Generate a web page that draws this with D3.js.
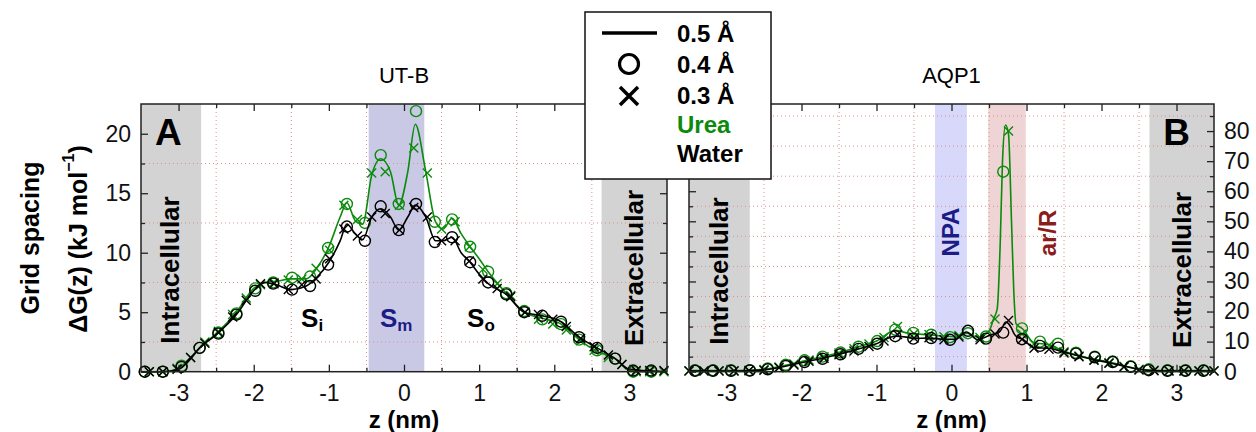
<!DOCTYPE html>
<html>
<head>
<meta charset="utf-8">
<script src="https://cdn.jsdelivr.net/npm/d3@7"></script>
<style>
  body { margin:0; background:#fff; }
  svg { font-family:"Liberation Sans", Arial, sans-serif; }
</style>
</head>
<body>
<div id="canvas"></div>
<script>
// --- UT-B (panel A) data, z in nm, dG in kJ/mol
var zLineUTB = [-3.5,-3.2,-3.0,-2.85,-2.72,-2.5,-2.23,-2.0,-1.85,-1.7,-1.5,-1.3,-1.15,-1.0,-0.85,-0.76,-0.65,-0.55,-0.43,-0.31,-0.18,-0.07,0.05,0.15,0.29,0.42,0.52,0.64,0.76,0.88,1.0,1.12,1.36,1.6,1.84,2.09,2.33,2.57,2.81,3.0,3.2,3.5];
var waterLineUTB = [0,0,0.2,1.0,2.0,3.1,4.8,6.8,7.5,7.3,6.9,7.2,8.0,9.2,11.0,12.4,11.6,11.1,13.0,13.7,13.0,11.9,13.0,14.0,13.0,11.0,11.0,11.3,10.0,9.2,8.2,7.4,6.5,5.0,4.7,4.2,2.9,2.0,1.1,0.2,0.1,0];
var ureaLineUTB  = [0,0,0.3,1.1,2.0,3.2,5.0,7.0,7.5,7.6,7.8,7.8,8.8,10.5,13.0,14.2,12.7,12.4,16.5,17.9,16.8,14.0,16.8,20.8,16.8,12.6,12.0,12.9,11.6,10.5,9.5,8.4,6.6,5.0,4.5,4.0,2.7,1.7,1.1,0.1,0,0];

var zCircUTB = [-3.45,-3.21,-2.96,-2.72,-2.47,-2.23,-1.98,-1.74,-1.49,-1.25,-1.01,-0.76,-0.52,-0.31,-0.07,0.16,0.41,0.64,0.88,1.12,1.36,1.6,1.84,2.09,2.33,2.57,2.81,3.05,3.29];
var waterCircUTB = [0,0,0.4,2.0,3.2,4.8,6.8,7.4,6.9,7.2,9.0,12.2,11.0,13.9,11.9,14.1,10.9,11.3,9.2,7.5,6.5,5.0,4.7,4.2,2.9,2.0,1.1,0.1,0.1];
var ureaCircUTB  = [0,0,0.5,2.0,3.3,4.9,7.0,7.5,7.9,8.0,10.4,14.1,12.5,18.2,14.1,21.9,12.6,12.8,10.5,8.4,6.6,5.1,4.4,4.0,2.7,1.8,1.1,0,0];

var zCrossUTB = [-3.39,-3.21,-3.02,-2.84,-2.65,-2.47,-2.28,-2.1,-1.91,-1.73,-1.54,-1.36,-1.17,-0.99,-0.8,-0.62,-0.43,-0.25,-0.06,0.13,0.31,0.5,0.68,0.87,1.05,1.24,1.42,1.61,1.79,1.98,2.16,2.35,2.53,2.72,2.9,3.09,3.27,3.46];
var waterCrossUTB = [0,0,0.2,1.2,2.4,3.3,4.6,6.0,7.4,7.4,6.9,7.3,7.8,9.5,12.0,11.4,13.0,13.3,11.9,13.8,13.0,11.0,11.0,9.3,7.8,7.0,6.3,5.0,4.8,4.4,3.8,2.8,2.1,1.4,0.6,0.1,0.1,0.1];
var ureaCrossUTB  = [0,0,0.3,1.2,2.5,3.4,4.8,6.2,7.3,7.5,7.7,7.8,8.7,10.2,14.0,12.8,16.7,16.8,14.0,18.8,16.7,12.0,12.6,10.5,8.6,7.4,6.4,5.0,4.4,4.0,3.5,2.6,1.8,1.2,0.6,0,0,0];

// --- AQP1 (panel B) data
var zLineAQP1 = [-3.5,-3.0,-2.7,-2.5,-2.2,-2.0,-1.75,-1.5,-1.25,-1.0,-0.75,-0.6,-0.5,-0.3,-0.1,0.05,0.2,0.35,0.5,0.56,0.61,0.65,0.68,0.72,0.76,0.8,0.83,0.86,0.95,1.1,1.3,1.5,1.7,1.9,2.1,2.3,2.5,2.7,3.0,3.5];
var waterLineAQP1 = [0.2,0.2,0.3,0.6,1.9,3.0,4.3,5.8,7.5,9.3,11.8,11.5,11.0,11.2,10.8,10.8,13.2,10.6,12.0,12.5,12.8,13.5,14.8,16.5,16.0,14.5,12.8,11.8,10.8,8.0,7.8,6.5,5.2,4.0,3.0,1.9,0.8,0.3,0.2,0.2];
var ureaLineAQP1  = [0.4,0.4,0.5,0.8,2.2,3.4,4.8,6.3,8.2,10.2,13.8,12.9,12.6,12.3,11.8,11.6,12.8,11.5,13.5,17.5,21,43,70,82,79,50,27,16,14.2,9.6,9.0,6.8,5.4,4.2,3.2,2.0,0.9,0.5,0.4,0.4];

var zCircAQP1 = [-3.42,-3.18,-2.94,-2.69,-2.45,-2.21,-1.96,-1.72,-1.48,-1.24,-0.99,-0.75,-0.51,-0.27,-0.02,0.22,0.46,0.69,0.94,1.18,1.42,1.66,1.91,2.15,2.39,2.63,2.88,3.12,3.36];
var waterCircAQP1 = [0.3,0.3,0.3,0.4,0.8,1.9,3.2,4.3,5.8,7.6,9.3,11.8,11.0,11.2,10.6,13.6,11.0,13.0,10.8,8.6,8.0,6.0,4.8,3.2,1.6,0.5,0.3,0.3,0.3];
var ureaCircAQP1  = [0.5,0.5,0.5,0.5,1.1,2.3,3.8,5.0,6.4,8.3,10.2,14.0,12.9,12.3,11.5,12.8,11.7,66.5,14.4,10.0,9.3,6.3,5.0,3.4,1.8,0.8,0.5,0.5,0.5];

var zCrossAQP1 = [-3.5,-3.3,-3.1,-2.9,-2.7,-2.5,-2.3,-2.1,-1.9,-1.7,-1.5,-1.3,-1.1,-0.9,-0.72,-0.5,-0.3,-0.1,0.1,0.38,0.58,0.76,0.94,1.1,1.3,1.5,1.7,1.9,2.1,2.3,2.5,2.7,2.9,3.1,3.3,3.5];
var waterCrossAQP1 = [0.2,0.2,0.2,0.2,0.3,0.5,1.3,2.2,3.5,4.5,5.6,6.9,8.4,10.2,12.4,11.2,11.3,10.6,11.5,10.6,12.5,17.0,10.8,7.8,7.5,6.2,5.0,3.8,2.8,1.6,0.6,0.3,0.2,0.2,0.2,0.2];
var ureaCrossAQP1  = [0.3,0.3,0.3,0.3,0.4,0.7,1.6,2.6,3.9,5.0,6.2,7.6,9.2,11.4,15.0,12.6,12.4,11.6,12.0,11.4,17.5,80.0,12.5,9.2,8.8,6.6,5.2,4.0,3.0,1.8,0.8,0.5,0.3,0.3,0.3,0.3];

// --- ticks and labels
var zTicks = [-3,-2,-1,0,1,2,3];
var zMinor = [-2.5,-1.5,-0.5,0.5,1.5,2.5];
var yTicksUTB = [0,5,10,15,20];
var yMinorUTB = [2.5,7.5,12.5,17.5];
var yTicksAQP1 = [0,10,20,30,40,50,60,70,80];
var yMinorAQP1 = [5,15,25,35,45,55,65,75,85];
var legendSpacing = ['0.5 Å','0.4 Å','0.3 Å'];
var legendSpecies = ['Urea','Water'];

var GREEN = '#0b8a0b';
var GRAY = '#d3d3d3';

var svg = d3.select('#canvas').append('svg')
  .attr('width', 1256).attr('height', 432);

var yTop = 104, yBot = 371.7;

function zip(zs, vs){ return zs.map(function(z,i){ return {z:z, v:vs[i]}; }); }

function drawPanel(p){
  var x = d3.scaleLinear().domain([-3.5,3.5]).range([p.x0, p.x1]);
  var y = d3.scaleLinear().domain([0, p.ymax]).range([yBot, yTop]);
  var g = svg.append('g');

  // bands
  g.selectAll('rect.band').data(p.bands).enter().append('rect')
    .attr('x', function(d){ return x(d.z0); })
    .attr('width', function(d){ return x(d.z1) - x(d.z0); })
    .attr('y', yTop).attr('height', yBot - yTop)
    .attr('fill', function(d){ return d.c; });

  // dotted grid
  g.selectAll('line.gx').data(zMinor).enter().append('line')
    .attr('x1', x).attr('x2', x).attr('y1', yTop).attr('y2', yBot)
    .attr('stroke', '#d89090').attr('stroke-width', 1).attr('stroke-dasharray', '1,3');
  g.selectAll('line.gy').data(p.yGrid).enter().append('line')
    .attr('x1', p.x0).attr('x2', p.x1).attr('y1', y).attr('y2', y)
    .attr('stroke', '#d89090').attr('stroke-width', 1).attr('stroke-dasharray', '1,3');

  // band texts
  p.vlabels.forEach(function(t){
    g.append('text')
      .attr('transform', 'translate(' + x(t.z) + ',' + t.y + ') rotate(-90)')
      .attr('text-anchor', 'middle').attr('dominant-baseline', 'central')
      .attr('font-size', t.size).attr('font-weight', 'bold').attr('fill', t.c)
      .text(t.text);
  });
  p.slabels.forEach(function(t){
    var tx = g.append('text').attr('x', x(t.z)).attr('y', 327)
      .attr('font-size', 26).attr('font-weight', 'bold').attr('fill', t.c);
    tx.append('tspan').text('S');
    tx.append('tspan').attr('font-size', 17).attr('dy', 4).text(t.sub);
  });

  // data
  var line = d3.line()
    .x(function(d){ return x(d.z); })
    .y(function(d){ return y(d.v); })
    .curve(d3.curveMonotoneX);

  p.series.forEach(function(s){
    g.append('path').attr('d', line(zip(p.zLine, s.line)))
      .attr('fill', 'none').attr('stroke', s.c).attr('stroke-width', 1.6);
    g.selectAll(null).data(zip(p.zCirc, s.circ)).enter().append('circle')
      .attr('cx', function(d){ return x(d.z); })
      .attr('cy', function(d){ return y(d.v); })
      .attr('r', 5.5).attr('fill', 'none').attr('stroke', s.c).attr('stroke-width', 1.4);
    g.selectAll(null).data(zip(p.zCross, s.cross)).enter().append('path')
      .attr('transform', function(d){ return 'translate(' + x(d.z) + ',' + y(d.v) + ')'; })
      .attr('d', 'M-4.5,-4.5L4.5,4.5M-4.5,4.5L4.5,-4.5')
      .attr('stroke', s.c).attr('stroke-width', 1.4);
  });

  // frame
  g.append('rect').attr('x', p.x0).attr('y', yTop)
    .attr('width', p.x1 - p.x0).attr('height', yBot - yTop)
    .attr('fill', 'none').attr('stroke', '#222').attr('stroke-width', 1.5);

  // axes
  var fmt = function(d){ return String(d); };
  g.append('g').attr('transform', 'translate(0,' + yBot + ')')
    .call(d3.axisBottom(x).tickValues(zTicks).tickFormat(fmt).tickSizeInner(-7).tickSizeOuter(0).tickPadding(13));
  g.append('g').attr('transform', 'translate(0,' + yTop + ')')
    .call(d3.axisTop(x).tickValues(zTicks).tickFormat('').tickSizeInner(-7).tickSizeOuter(0));
  g.append('g').attr('transform', 'translate(0,' + yBot + ')')
    .call(d3.axisBottom(x).tickValues(zMinor).tickFormat('').tickSizeInner(-4).tickSizeOuter(0));
  g.append('g').attr('transform', 'translate(0,' + yTop + ')')
    .call(d3.axisTop(x).tickValues(zMinor).tickFormat('').tickSizeInner(-4).tickSizeOuter(0));

  var yl = d3.axisLeft(y).tickValues(p.yTicks).tickSizeInner(-7).tickSizeOuter(0).tickPadding(10);
  var yr = d3.axisRight(y).tickValues(p.yTicks).tickSizeInner(-7).tickSizeOuter(0).tickPadding(10);
  if (p.labelSide === 'left') yr.tickFormat(''); else yl.tickFormat('');
  g.append('g').attr('transform', 'translate(' + p.x0 + ',0)').call(yl);
  g.append('g').attr('transform', 'translate(' + p.x1 + ',0)').call(yr);
  g.append('g').attr('transform', 'translate(' + p.x0 + ',0)')
    .call(d3.axisLeft(y).tickValues(p.yGrid).tickFormat('').tickSizeInner(-4).tickSizeOuter(0));
  g.append('g').attr('transform', 'translate(' + p.x1 + ',0)')
    .call(d3.axisRight(y).tickValues(p.yGrid).tickFormat('').tickSizeInner(-4).tickSizeOuter(0));

  g.selectAll('.domain').remove();
  g.selectAll('.tick line').attr('stroke', '#222').attr('stroke-width', 1.3);
  g.selectAll('.tick text').attr('font-size', 23).attr('fill', '#111')
    .attr('font-family', '"Liberation Sans", Arial, sans-serif');

  // titles
  g.append('text').attr('x', x(0)).attr('y', 83).attr('text-anchor', 'middle')
    .attr('font-size', 22).text(p.title);
  g.append('text').attr('x', x(0)).attr('y', 428).attr('text-anchor', 'middle')
    .attr('font-size', 24).attr('font-weight', 'bold').text('z (nm)');
  g.append('text').attr('x', p.letterX).attr('y', 145).attr('text-anchor', p.letterAnchor)
    .attr('font-size', 37).attr('font-weight', 'bold').text(p.id);
}

drawPanel({
  id:'A', title:'UT-B', x0:141, x1:667, ymax:22.5,
  yTicks:yTicksUTB, yGrid:yMinorUTB, labelSide:'left',
  letterX:155, letterAnchor:'start',
  bands:[{z0:-3.5,z1:-2.7,c:GRAY},{z0:-0.47,z1:0.27,c:'#c9c9e6'},{z0:2.63,z1:3.5,c:GRAY}],
  vlabels:[{z:-3.12,y:270,text:'Intracellular',c:'#000',size:26},{z:3.06,y:268,text:'Extracellular',c:'#000',size:26}],
  slabels:[{z:-1.37,sub:'i',c:'#000'},{z:-0.32,sub:'m',c:'#1c1c86'},{z:0.84,sub:'o',c:'#000'}],
  zLine:zLineUTB, zCirc:zCircUTB, zCross:zCrossUTB,
  series:[
    {c:GREEN, line:ureaLineUTB, circ:ureaCircUTB, cross:ureaCrossUTB},
    {c:'#000', line:waterLineUTB, circ:waterCircUTB, cross:waterCrossUTB}
  ]
});

drawPanel({
  id:'B', title:'AQP1', x0:689, x1:1214, ymax:89,
  yTicks:yTicksAQP1, yGrid:yMinorAQP1, labelSide:'right',
  letterX:1190, letterAnchor:'end',
  bands:[{z0:-3.5,z1:-2.69,c:GRAY},{z0:-0.22,z1:0.205,c:'#d8d8fb'},{z0:0.49,z1:0.99,c:'#eed4d4'},{z0:2.64,z1:3.5,c:GRAY}],
  vlabels:[{z:-3.1,y:271,text:'Intracellular',c:'#000',size:26},{z:3.07,y:270,text:'Extracellular',c:'#000',size:26},
           {z:-0.02,y:232,text:'NPA',c:'#1c1c86',size:24},{z:1.28,y:233,text:'ar/R',c:'#8b1c1c',size:24}],
  slabels:[],
  zLine:zLineAQP1, zCirc:zCircAQP1, zCross:zCrossAQP1,
  series:[
    {c:GREEN, line:ureaLineAQP1, circ:ureaCircAQP1, cross:ureaCrossAQP1},
    {c:'#000', line:waterLineAQP1, circ:waterCircAQP1, cross:waterCrossAQP1}
  ]
});

// y axis titles
svg.append('text').attr('transform', 'translate(30,238) rotate(-90)')
  .attr('text-anchor', 'middle').attr('dominant-baseline', 'central')
  .attr('font-size', 25).attr('font-weight', 'bold').text('Grid spacing');
var yt = svg.append('text').attr('transform', 'translate(78,239) rotate(-90)')
  .attr('text-anchor', 'middle').attr('dominant-baseline', 'central')
  .attr('font-size', 25).attr('font-weight', 'bold');
yt.append('tspan').text('ΔG(z) (kJ mol');
yt.append('tspan').attr('font-size', 16).attr('dy', -10).text('−1');
yt.append('tspan').attr('dy', 10).text(')');

// legend
var lg = svg.append('g');
lg.append('rect').attr('x', 585).attr('y', 12).attr('width', 186).attr('height', 167)
  .attr('fill', '#fff').attr('stroke', '#111').attr('stroke-width', 1.5);
lg.append('line').attr('x1', 602).attr('x2', 657).attr('y1', 33).attr('y2', 33)
  .attr('stroke', '#000').attr('stroke-width', 3.5);
lg.append('circle').attr('cx', 629).attr('cy', 64).attr('r', 9.5)
  .attr('fill', 'none').attr('stroke', '#000').attr('stroke-width', 3.2);
lg.append('path').attr('transform', 'translate(629,96)')
  .attr('d', 'M-9,-9L9,9M-9,9L9,-9').attr('stroke', '#000').attr('stroke-width', 3.5);
legendSpacing.forEach(function(t, i){
  lg.append('text').attr('x', 677).attr('y', 42 + i * 31)
    .attr('font-size', 24).attr('font-weight', 'bold').text(t);
});
legendSpecies.forEach(function(t, i){
  lg.append('text').attr('x', 677).attr('y', 133 + i * 29)
    .attr('font-size', 24).attr('font-weight', 'bold')
    .attr('fill', i === 0 ? GREEN : '#000').text(t);
});
</script>
</body>
</html>
